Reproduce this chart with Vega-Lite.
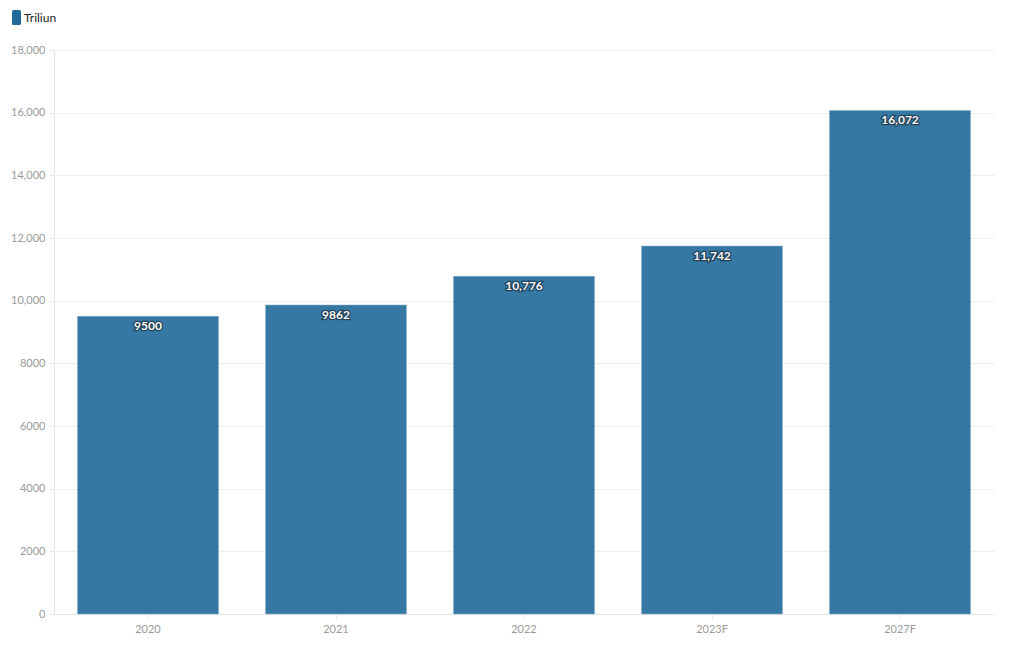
{
  "$schema": "https://vega.github.io/schema/vega-lite/v6.json",
  "width": 940,
  "height": 564,
  "autosize": {"type": "none"},
  "padding": {"left": 54, "top": 50, "right": 26, "bottom": 36},
  "background": "white",
  "config": {
    "view": {"stroke": null},
    "font": "Lato"
  },
  "data": {
    "values": [
      {"year": "2020", "value": 9500, "label": "9500", "series": "Triliun"},
      {"year": "2021", "value": 9862, "label": "9862", "series": "Triliun"},
      {"year": "2022", "value": 10776, "label": "10,776", "series": "Triliun"},
      {"year": "2023F", "value": 11742, "label": "11,742", "series": "Triliun"},
      {"year": "2027F", "value": 16072, "label": "16,072", "series": "Triliun"}
    ]
  },
  "encoding": {
    "x": {
      "field": "year",
      "type": "nominal",
      "sort": null,
      "scale": {"paddingInner": 0.25, "paddingOuter": 0.125},
      "axis": {
        "title": null,
        "labelAngle": 0,
        "labelColor": "#9a9a9a",
        "labelFontSize": 11,
        "labelPadding": 5,
        "domainColor": "#e6e6e6",
        "tickColor": "#e6e6e6",
        "tickSize": 4,
        "grid": false
      }
    },
    "y": {
      "field": "value",
      "type": "quantitative",
      "scale": {"domain": [0, 18000], "nice": false},
      "axis": {
        "title": null,
        "values": [0, 2000, 4000, 6000, 8000, 10000, 12000, 14000, 16000, 18000],
        "labelExpr": "datum.value >= 10000 ? format(datum.value, ',') : format(datum.value, 'd')",
        "labelColor": "#9a9a9a",
        "labelFontSize": 11,
        "labelPadding": 4,
        "domainColor": "#e6e6e6",
        "tickColor": "#e6e6e6",
        "tickSize": 5,
        "gridColor": "#eeeeee"
      }
    }
  },
  "layer": [
    {
      "mark": {"type": "bar", "opacity": 0.9, "stroke": "#7fa9c4", "strokeWidth": 0.5},
      "encoding": {
        "color": {
          "field": "series",
          "type": "nominal",
          "scale": {"range": ["#1f6a9a"]},
          "legend": {
            "title": null,
            "orient": "none",
            "legendX": -45,
            "legendY": -40,
            "symbolType": "M-0.6,-0.8 Q-0.6,-1 -0.4,-1 L0.4,-1 Q0.6,-1 0.6,-0.8 L0.6,0.8 Q0.6,1 0.4,1 L-0.4,1 Q-0.6,1 -0.6,0.8 Z",
            "symbolSize": 225,
            "symbolOpacity": 1,
            "symbolStrokeWidth": 0,
            "labelFontSize": 12,
            "labelColor": "#222222",
            "labelOffset": 0
          }
        }
      }
    },
    {
      "mark": {
        "type": "text",
        "baseline": "middle",
        "dy": 10,
        "fontWeight": "bold",
        "fontSize": 12,
        "color": "#1a1a1a",
        "stroke": "#1a2a3a",
        "strokeWidth": 2.5,
        "strokeOpacity": 0.7
      },
      "encoding": {"text": {"field": "label"}}
    },
    {
      "mark": {
        "type": "text",
        "baseline": "middle",
        "dy": 10,
        "fontWeight": "bold",
        "fontSize": 12,
        "color": "white"
      },
      "encoding": {"text": {"field": "label"}}
    }
  ]
}
